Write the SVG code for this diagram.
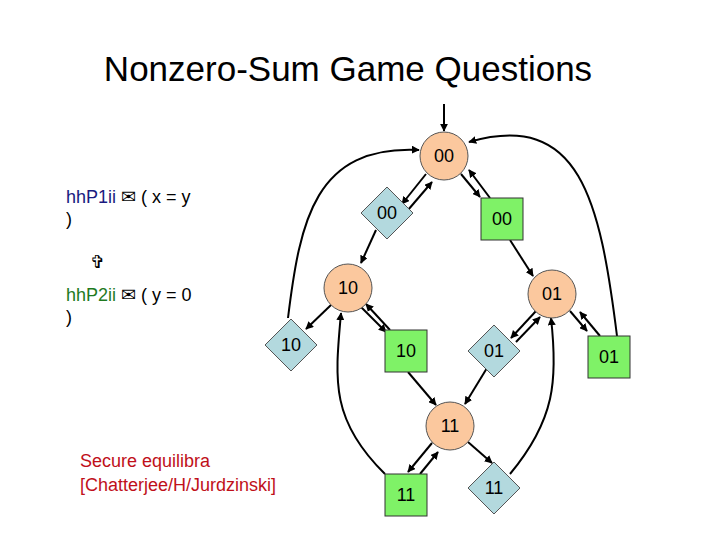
<svg xmlns="http://www.w3.org/2000/svg" width="720" height="540" viewBox="0 0 720 540">
<style>
text{font-family:"Liberation Sans",Arial,sans-serif}
.c{fill:#fbc89e;stroke:#555;stroke-width:1}
.d{fill:#b3d9de;stroke:#555;stroke-width:1}
.s{fill:#7ff267;stroke:#333;stroke-width:1}
.l{font-size:18px;text-anchor:middle;dominant-baseline:central}
.e{fill:none;stroke:#000;stroke-width:2;marker-end:url(#a)}
.t{font-size:18px}
</style>
<defs><marker id="a" viewBox="0 0 10 10" refX="9" refY="5" markerWidth="4" markerHeight="4" orient="auto"><path d="M0,0L10,5L0,10z" fill="#000"/></marker></defs>
<rect width="720" height="540" fill="#fff"/>
<text x="348" y="81" font-size="35" text-anchor="middle">Nonzero-Sum Game Questions</text>
<text class="t" x="66" y="203"><tspan fill="#1a1a80">hhP1ii</tspan> ✉ ( x = y</text>
<text class="t" x="66" y="225">)</text>
<text class="t" x="90" y="268">✞</text>
<text class="t" x="66" y="301"><tspan fill="#1f7a1f">hhP2ii</tspan> ✉ ( y = 0</text>
<text class="t" x="66" y="323">)</text>
<text class="t" x="80" y="467" fill="#c0101a">Secure equilibra</text>
<text class="t" x="80" y="491" fill="#c0101a">[Chatterjee/H/Jurdzinski]</text>
<g id="edges">
<path class="e" d="M444,104L444,131"/>
<path class="e" d="M426,174L402,204"/>
<path class="e" d="M408,210L432,182"/>
<path class="e" d="M461,174L480,197"/>
<path class="e" d="M490,198L469,170"/>
<path class="e" d="M376,230L361,263"/>
<path class="e" d="M510,240L533,276"/>
<path class="e" d="M331,305L306,329"/>
<path class="e" d="M360,306L386,332"/>
<path class="e" d="M390,330L366,304"/>
<path class="e" d="M288,318C300,220 315,145 419,150"/>
<path class="e" d="M617,336C600,200 580,110 469,142"/>
<path class="e" d="M536,311L511,338"/>
<path class="e" d="M516,342L540,317"/>
<path class="e" d="M570,311L587,331"/>
<path class="e" d="M600,336L580,312"/>
<path class="e" d="M408,372L436,405"/>
<path class="e" d="M487,368L465,404"/>
<path class="e" d="M432,443L408,472"/>
<path class="e" d="M420,474L438,452"/>
<path class="e" d="M468,442L492,463"/>
<path class="e" d="M385,474C330,420 335,380 341,313"/>
<path class="e" d="M510,474C555,420 558,380 551,318"/>
</g>
<g id="n00"><circle class="c" cx="444" cy="156" r="24"/><text class="l" x="444" y="156">00</text></g>
<g id="d00"><path class="d" d="M387,187L413,213L387,239L361,213z"/><text class="l" x="387" y="213">00</text></g>
<g id="s00"><rect class="s" x="481" y="198" width="42" height="42"/><text class="l" x="502" y="219">00</text></g>
<g id="n10"><circle class="c" cx="348" cy="288" r="24"/><text class="l" x="348" y="288">10</text></g>
<g id="n01"><circle class="c" cx="552" cy="294" r="24"/><text class="l" x="552" y="294">01</text></g>
<g id="d10"><path class="d" d="M291,319L317,345L291,371L265,345z"/><text class="l" x="291" y="345">10</text></g>
<g id="s10"><rect class="s" x="385" y="330" width="42" height="42"/><text class="l" x="406" y="351">10</text></g>
<g id="d01"><path class="d" d="M494,325L520,351L494,377L468,351z"/><text class="l" x="494" y="351">01</text></g>
<g id="s01"><rect class="s" x="588" y="336" width="42" height="42"/><text class="l" x="609" y="357">01</text></g>
<g id="n11"><circle class="c" cx="450" cy="426" r="24"/><text class="l" x="450" y="426">11</text></g>
<g id="s11"><rect class="s" x="385" y="474" width="42" height="42"/><text class="l" x="406" y="495">11</text></g>
<g id="d11"><path class="d" d="M494,462L520,488L494,514L468,488z"/><text class="l" x="494" y="488">11</text></g>
</svg>
